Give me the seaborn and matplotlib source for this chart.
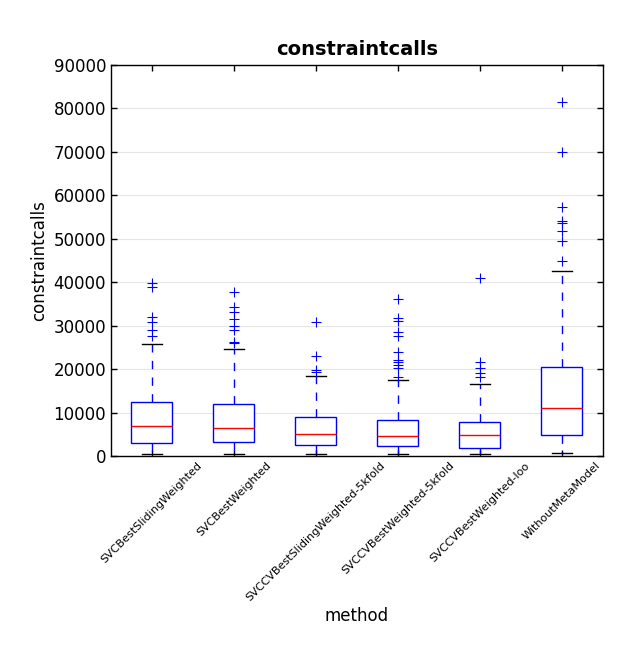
import numpy as np
import pandas as pd
import matplotlib
matplotlib.use("Agg")
import matplotlib.pyplot as plt
import seaborn as sns

methods = ["SVCBestSlidingWeighted", "SVCBestWeighted", "SVCCVBestSlidingWeighted-5kfold",
           "SVCCVBestWeighted-5kfold", "SVCCVBestWeighted-loo", "WithoutMetaModel"]
whis_lo = [500, 500, 500, 500, 500, 600]
q1 = [3000, 3200, 2450, 2200, 1950, 4830]
median = [6900, 6400, 5060, 4600, 4830, 10970]
q3 = [12360, 12000, 8900, 8300, 7800, 20560]
whis_hi = [25700, 24550, 18350, 17400, 16500, 42600]
fliers = [
    [39800, 39000, 32000, 30800, 29100, 27600],
    [37700, 34400, 33200, 31450, 29900, 29000, 26300, 25900],
    [30800, 23100, 19800, 19400],
    [36100, 31700, 31100, 28600, 27600, 24000, 22100, 21700, 20900, 20200, 18100],
    [40900, 21550, 20300, 19200, 18100],
    [81400, 70000, 57400, 54100, 53700, 51900, 49600, 44900],
]

# Build per-method samples that reproduce the read-off summary statistics
rows = []
for i, m in enumerate(methods):
    k = len(fliers[i]) + 1
    vals = [whis_lo[i]] + [q1[i]] * k + [median[i]] * k + [q3[i]] * k + [whis_hi[i]] + fliers[i]
    rows += [(m, v) for v in vals]
df = pd.DataFrame(rows, columns=["method", "constraintcalls"])

fig = plt.figure(figsize=(6.35, 6.51), dpi=100)
ax = fig.add_axes([0.1748, 0.2995, 0.9496 - 0.1748, 0.9002 - 0.2995])
ax.yaxis.grid(True, color="#e6e6e6", linewidth=0.8, zorder=0)
ax.set_axisbelow(True)

sns.boxplot(data=df, x="method", y="constraintcalls", order=methods, ax=ax,
            width=0.5, whis=1.5, fill=True, linewidth=1.0,
            boxprops=dict(facecolor="white", edgecolor="blue", linewidth=1.0),
            medianprops=dict(color="red", linewidth=1.0),
            whiskerprops=dict(color="blue", linestyle=(0, (6, 6)), linewidth=1.0),
            capprops=dict(color="black", linewidth=1.0),
            flierprops=dict(marker="+", markeredgecolor="blue", markerfacecolor="none",
                            markersize=7, markeredgewidth=0.8, linestyle="none"))

ax.set_xlim(-0.5, 5.5)
ax.set_ylim(0, 90000)
ax.set_yticks(np.arange(0, 90001, 10000))
ax.set_yticklabels([str(v) for v in range(0, 90001, 10000)], fontsize=12)
ax.set_xticks(range(len(methods)))
ax.set_xticklabels(methods, rotation=45, fontsize=8)
ax.tick_params(direction="in", top=True, right=True, length=4, width=1)
ax.tick_params(axis="x", pad=3)
for s in ax.spines.values():
    s.set_color("black")
    s.set_linewidth(1.0)
ax.set_xlabel("method", fontsize=12, labelpad=3)
ax.set_ylabel("constraintcalls", fontsize=12)
ax.set_title("constraintcalls", fontsize=14, fontweight="bold", pad=7)
fig.savefig("out.png", dpi=100, facecolor="white")
